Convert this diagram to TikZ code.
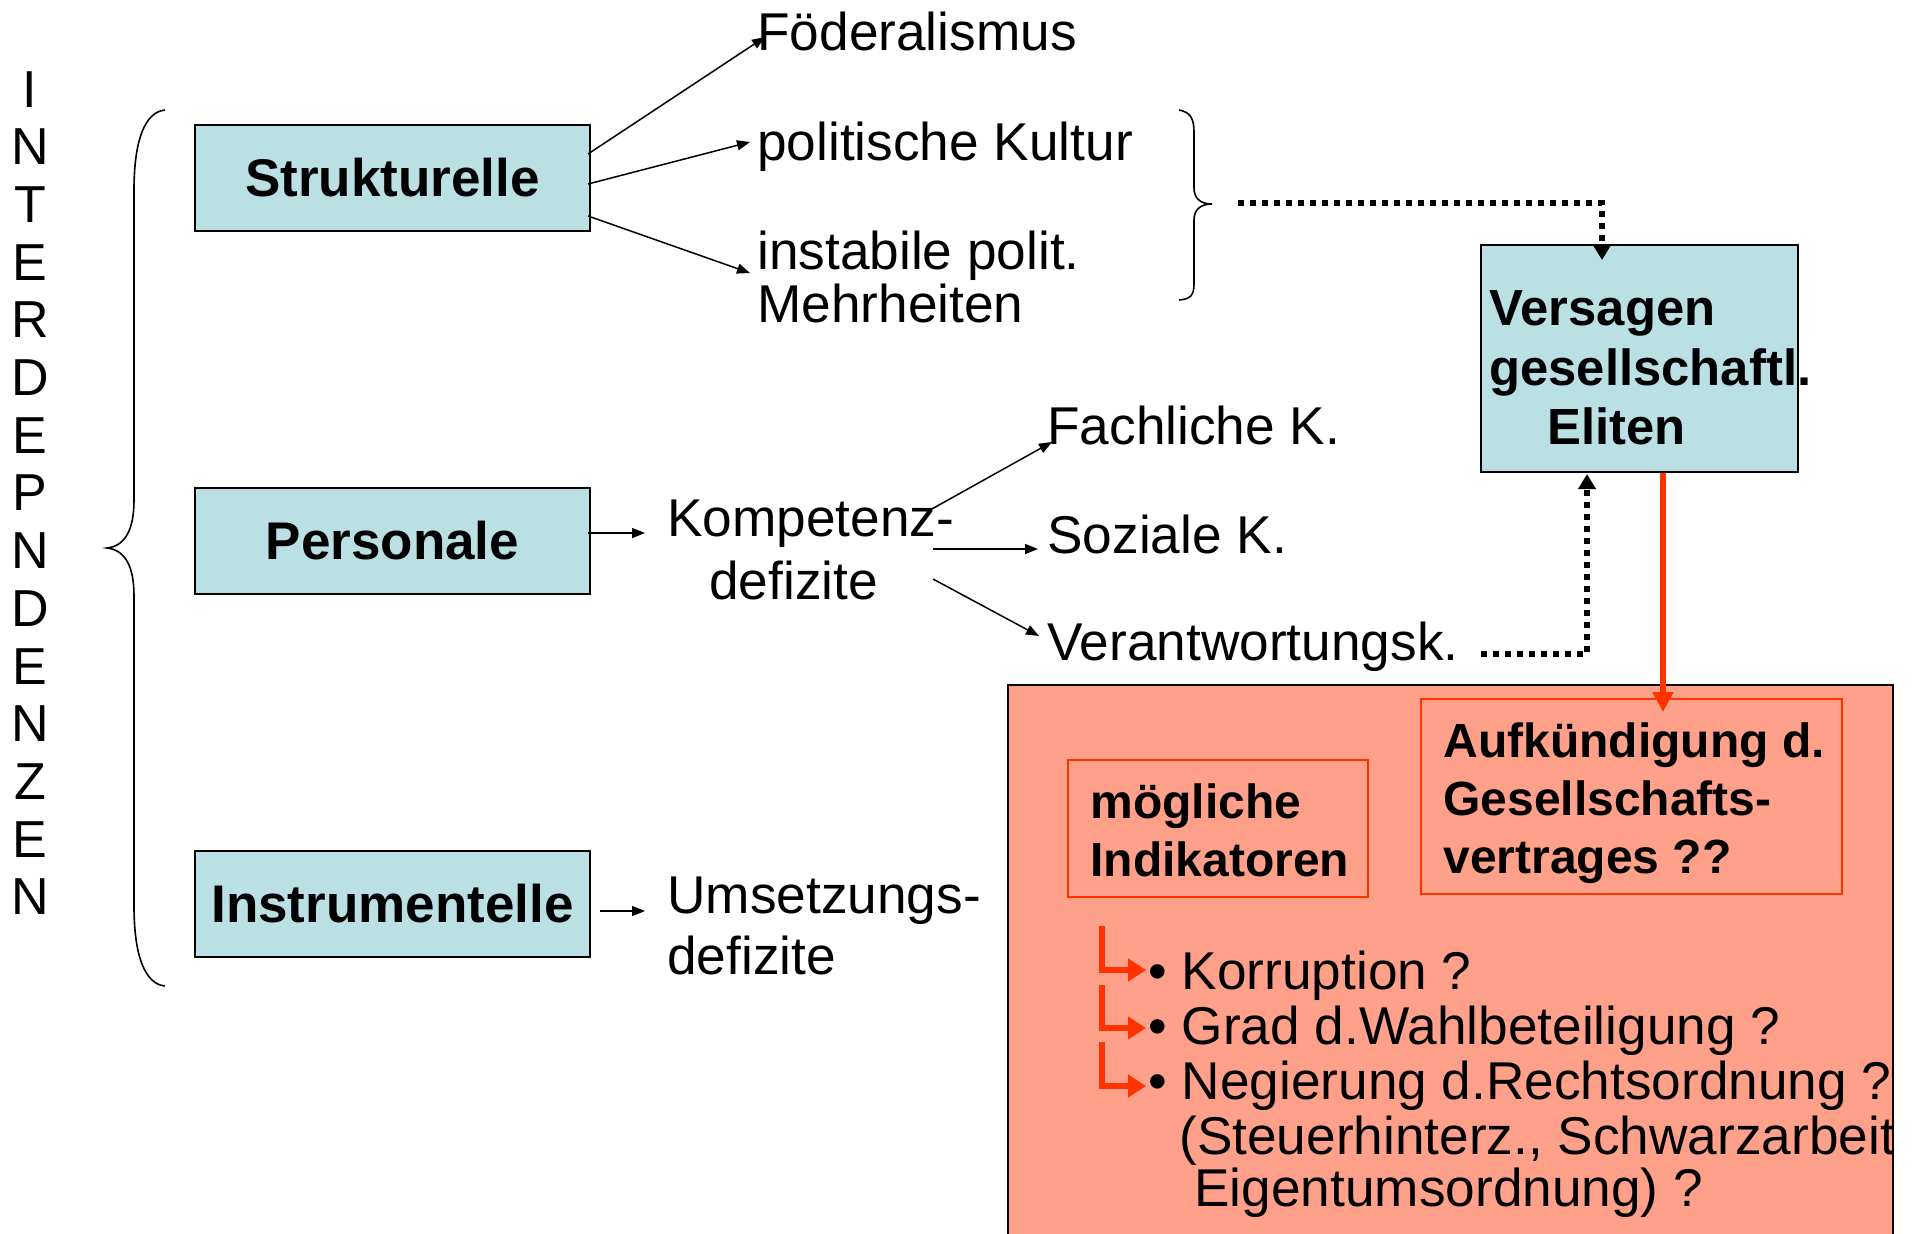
\documentclass[tikz,border=0pt]{standalone}
\usepackage{fontspec}
\setmainfont{Liberation Sans}
\usetikzlibrary{arrows.meta,calc}
\definecolor{boxblue}{HTML}{BBE0E3}
\definecolor{salmonfill}{HTML}{FFA08A}
\definecolor{redline}{HTML}{FF3300}
\tikzset{
  plain/.style={inner sep=0pt, anchor=base west, font=\fontsize{26.6}{30}\selectfont},
  boldtxt/.style={inner sep=0pt, anchor=base west, font=\fontsize{24}{28}\selectfont\bfseries},
  verstxt/.style={inner sep=0pt, anchor=base west, font=\fontsize{25.4}{29}\selectfont\bfseries},
  bluebox/.style={draw=black, line width=1pt, fill=boxblue, inner sep=0pt,
     font=\fontsize{26.5}{30}\selectfont\bfseries},
  redbox/.style={draw=redline, line width=0.8pt, inner sep=0pt},
  conn/.style={line width=0.75pt, -{Triangle[length=6.5pt,width=5pt]}},
  dotconn/.style={line width=2.8pt, dash pattern=on 3pt off 3pt, -{Triangle[length=7.5pt,width=8.5pt]}},
  redarr/.style={draw=redline, line width=2.6pt, -{Triangle[length=10pt,width=10pt]}, color=redline},
  redL/.style={draw=redline, line width=3pt, -{Triangle[length=9pt,width=11pt]}, color=redline},
  bracepath/.style={line width=0.8pt}
}
\begin{document}
\begin{tikzpicture}[x=0.5pt,y=-0.5pt]
\useasboundingbox (0,0) rectangle (1914,1233);

% vertical word
\foreach \L [count=\i from 0] in {I,N,T,E,R,D,E,P,N,D,E,N,Z,E,N}
  \node[inner sep=0pt, anchor=base, font=\fontsize{26}{30}\selectfont] (v\i) at (30,{107+57.7*\i}) {\L};

% left brace
\draw[bracepath] (165,110) .. controls (145,112) and (134,140) .. (134,190) -- (134,500)
   .. controls (134,530) and (125,546) .. (107,548)
   .. controls (125,550) and (134,566) .. (134,596) -- (134,906)
   .. controls (134,956) and (145,984) .. (165,986);

% blue boxes
\node[bluebox, minimum width=197.5pt, minimum height=53pt] (struk) at (392.5,178) {Strukturelle};
\node[bluebox, minimum width=197.5pt, minimum height=53pt] (pers) at (392.5,541) {Personale};
\node[bluebox, minimum width=197.5pt, minimum height=53pt] (instr) at (392.5,904) {\raisebox{-4.5pt}{Instrumentelle}};

% top texts
\node[plain] (foed) at (757,50) {Föderalismus};
\node[plain] (polk) at (757,160) {politische Kultur};
\node[plain] (inst1) at (757,269) {instabile polit.};
\node[plain] (inst2) at (757,322) {Mehrheiten};

\draw[conn] ($(struk.east)+(-3,-24)$) -- ($(foed.base west)+(8,-13)$);
\draw[conn] ($(struk.east)+(-3,6)$) -- ($(polk.base west)+(-7,-18)$);
\draw[conn] ($(struk.east)+(-3,38)$) -- ($(inst1.base west)+(-7,4)$);

% right brace
\draw[bracepath] (1179,110) .. controls (1190,112) and (1194,118) .. (1194,132) -- (1194,188)
   .. controls (1194,198) and (1200,204) .. (1212,204)
   .. controls (1200,204) and (1194,210) .. (1194,220) -- (1194,284)
   .. controls (1194,296) and (1190,299) .. (1179,300);
\coordinate (bracetip) at (1212,204);

% Versagen box
\node[draw=black, line width=1pt, fill=boxblue, minimum width=158.5pt, minimum height=113.5pt, inner sep=0pt] (vers) at (1639.5,358.5) {};
\node[verstxt] (vers1) at (1489,325) {Versagen};
\node[verstxt] (vers2) at (1489,385) {gesellschaftl.};
\node[verstxt] (vers3) at (1547,444) {Eliten};

\coordinate (vtop) at (1602,260);
\draw[dotconn] ($(bracetip)+(26,-1)$) -| (vtop);

% Personale branch
\node[plain] (komp1) at (667,536) {Kompetenz-};
\node[plain] (komp2) at (709,599) {defizite};
\draw[conn] ($(pers.east)+(-3,-8)$) -- ($(komp1.base west)+(-22,-3)$);

\node[plain] (fach) at (1047,444) {Fachliche K.};
\node[plain] (soz) at (1047,553) {Soziale K.};
\node[plain] (verant) at (1047,660) {Verantwortungsk.};

\draw[conn] ($(komp1.base west)+(263,-26)$) -- ($(fach.base west)+(5,-2)$);
\draw[conn] ($(komp1.base west)+(266,13)$) -- ($(soz.base west)+(-9,-4)$);
\draw[conn] ($(komp1.base west)+(266,43)$) -- ($(verant.base west)+(-8,-24)$);

\coordinate (vbot) at (1587,474);
\draw[dotconn] (1481,654) -| (vbot);

% Instrumentelle branch
\node[plain] (ums1) at (667,913) {Umsetzungs-};
\node[plain] (ums2) at (667,974) {defizite};
\draw[conn] ($(instr.east)+(9,7)$) -- ($(ums1.base west)+(-22,-2)$);

% salmon area
\fill[salmonfill] (1008,685) rectangle (1893,1240);
\draw[line width=0.8pt] (1008,1240) -- (1008,685) -- (1893,685) -- (1893,1240);

\node[redbox, minimum width=150pt, minimum height=68.5pt] (moeg) at (1218,828.5) {};
\node[boldtxt] (moeg1) at (1090,818) {mögliche};
\node[boldtxt] (moeg2) at (1090,876) {Indikatoren};

\node[redbox, minimum width=210.5pt, minimum height=97.5pt] (auf) at (1631.5,796.5) {};
\node[boldtxt] (auf1) at (1443,757) {Aufkündigung d.};
\node[boldtxt] (auf2) at (1443,815) {Gesellschafts-};
\node[boldtxt] (auf3) at (1443,873) {vertrages ??};

\coordinate (redtip) at (1663,712);
\draw[redarr] (vers.south -| redtip) -- (redtip);

\begin{scope}
\clip (1008,685) rectangle (1893,1240);
\node[plain] (l1) at (1148,989) {•\ Korruption ?};
\node[plain] (l2) at (1148,1044) {•\ Grad d.Wahlbeteiligung ?};
\node[plain] (l3) at (1148,1099) {•\ Negierung d.Rechtsordnung ?};
\node[plain] (l4) at (1179,1154) {(Steuerhinterz., Schwarzarbeit};
\node[plain] (l5) at (1194,1206) {Eigentumsordnung) ?};
\end{scope}

\draw[redL] (1102,926) |- (1146,970);
\draw[redL] (1102,985) |- (1146,1028);
\draw[redL] (1102,1042) |- (1146,1086);
\end{tikzpicture}
\end{document}
